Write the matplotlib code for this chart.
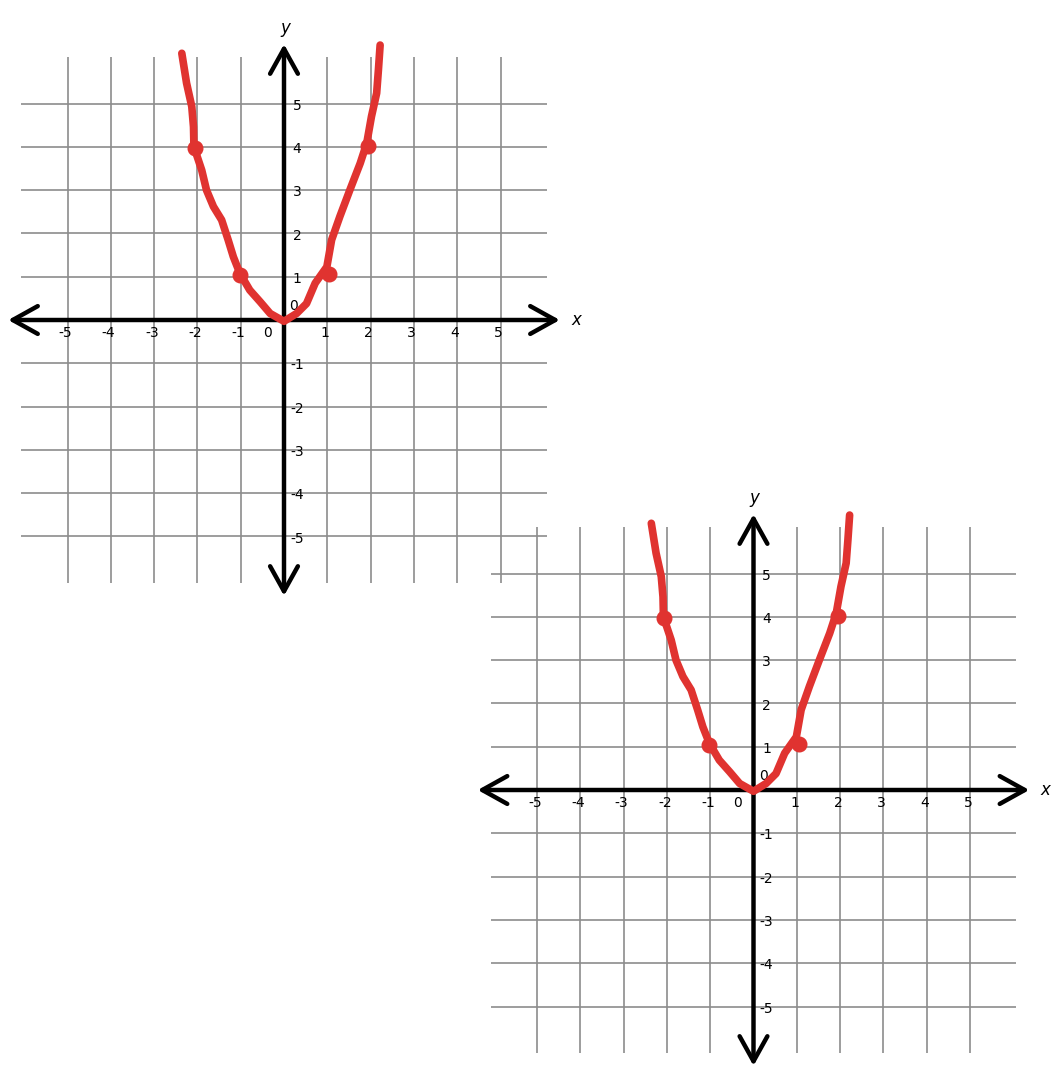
import numpy as np
from matplotlib import pyplot as plt

# hand drawn parabola (grid units)
curve_x = [-2.36, -2.25, -2.13, -2.09, -2.08, -1.90, -1.79, -1.63, -1.44, -1.29, -1.17, -1.02,
           -0.79, -0.55, -0.32, 0.0, 0.29, 0.52, 0.72, 0.99, 1.10, 1.29, 1.52, 1.76, 1.91,
           2.02, 2.14, 2.18, 2.22]
curve_y = [6.16, 5.47, 4.93, 4.46, 4.0, 3.46, 3.0, 2.62, 2.31, 1.85, 1.46, 1.08,
           0.69, 0.42, 0.15, -0.03, 0.15, 0.38, 0.85, 1.23, 1.85, 2.39, 3.0, 3.62, 4.08,
           4.7, 5.24, 5.77, 6.35]

# the thick dots on the curve
dot_x = [-2.06, -1.02, 1.04, 1.94]
dot_y = [3.98, 1.05, 1.07, 4.03]

ticks = [-5, -4, -3, -2, -1, 1, 2, 3, 4, 5]
grid_ext = 6.07
arrow_ext = 6.37

W, H = 1060, 1074
unit = 43.3          # pixels per grid unit
half = 6.55          # half range shown in each axes
centers = [(284, 320), (753.5, 790)]   # pixel position of the origin of each graph

red = '#e03330'
grey = '#8c8c8c'
txt = dict(fontsize=10, color='black', ha='center', va='center')

fig = plt.figure(figsize=(W / 100, H / 100), dpi=100)

for cx, cy in centers:
    left = (cx - half * unit) / W
    bottom = (H - cy - half * unit) / H
    ax = fig.add_axes([left, bottom, 2 * half * unit / W, 2 * half * unit / H])
    ax.set_xlim(-half, half)
    ax.set_ylim(-half, half)
    ax.axis('off')
    ax.patch.set_alpha(0)

    # grid
    ax.hlines(ticks, -grid_ext, grid_ext, color=grey, lw=1.2, zorder=1)
    ax.vlines(ticks, -grid_ext, grid_ext, color=grey, lw=1.2, zorder=1)

    # axes with arrows
    arrow = dict(arrowstyle='<->,head_length=0.9,head_width=0.5', lw=3.2,
                 color='black', mutation_scale=20, shrinkA=0, shrinkB=0)
    ax.annotate('', xy=(arrow_ext, 0), xytext=(-arrow_ext, 0), arrowprops=arrow, zorder=3)
    ax.annotate('', xy=(0, arrow_ext), xytext=(0, -arrow_ext), arrowprops=arrow, zorder=3)

    # tick numbers
    for t in ticks:
        ax.text(t - 0.05, -0.3, str(t), zorder=4, **txt)
        ax.text(0.3, t - 0.05, str(t), zorder=4, **txt)
    ax.text(-0.37, -0.3, '0', **txt)
    ax.text(0.23, 0.32, '0', **txt)
    ax.text(6.75, 0.0, 'x', ha='center', va='center', fontsize=12, fontstyle='italic')
    ax.text(0.02, 6.75, 'y', ha='center', va='center', fontsize=12, fontstyle='italic')

    # parabola
    ax.plot(curve_x, curve_y, color=red, lw=5.5, solid_capstyle='round',
            solid_joinstyle='round', zorder=5, clip_on=False)
    ax.plot(dot_x, dot_y, 'o', color=red, ms=10.5, zorder=6, clip_on=False)

plt.savefig('out.png', dpi=100)
